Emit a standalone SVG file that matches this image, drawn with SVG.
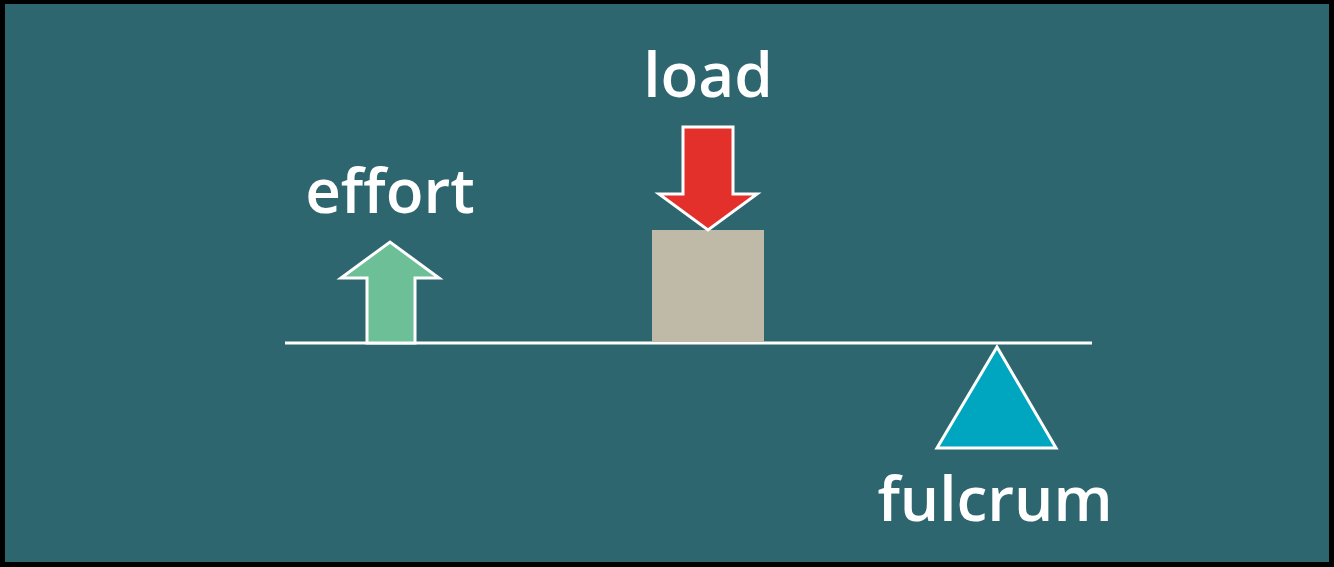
<svg xmlns="http://www.w3.org/2000/svg" width="1334" height="567" viewBox="0 0 1334 567">
<style>
.lbl{font-family:"Open Sans","Liberation Sans",sans-serif;font-weight:600;font-size:62px;fill:#ffffff;text-anchor:middle}
.out{stroke:#ffffff;stroke-width:3;stroke-linejoin:miter}
</style>
<rect x="0" y="0" width="1334" height="567" fill="#000000"/>
<rect x="5" y="4" width="1324" height="558" fill="#2e6670"/>
<g id="beam">
<line x1="285" y1="343" x2="1092" y2="343" stroke="#ffffff" stroke-width="3"/>
</g>
<g id="effort">
<polygon class="out" fill="#6dbf98" points="367,343 367,278 341,278 390,242 439,278 415,278 415,343"/>
<text class="lbl" x="390" y="213">effort</text>
</g>
<g id="load">
<rect x="652" y="230" width="112" height="112" fill="#bfb9a7"/>
<polygon class="out" fill="#e3302a" points="683,127 733,127 733,194 757,194 708,230 659,194 683,194"/>
<text class="lbl" x="708" y="97">load</text>
</g>
<g id="fulcrum">
<polygon class="out" fill="#00a6c0" points="997,347 1056,448 937,448"/>
<text class="lbl" x="995" y="521">fulcrum</text>
</g>
</svg>
